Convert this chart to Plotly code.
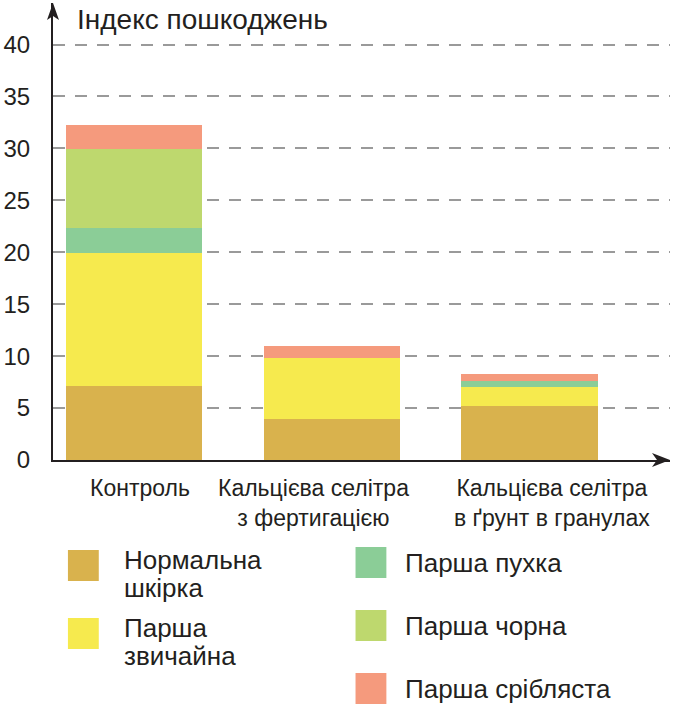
"""Stacked bar chart: damage index of potato tubers by treatment."""

import plotly.graph_objects as go

# ---- data ----
categories = [
    "Контроль",
    "Кальцієва селітра<br>з фертигацією",
    "Кальцієва селітра<br>в ґрунт в гранулах",
]
series_names = [
    "Нормальна шкірка",
    "Парша звичайна",
    "Парша пухка",
    "Парша чорна",
    "Парша срібляста",
]
normal_skin = [7.1, 3.9, 5.2]
common_scab = [12.8, 5.9, 1.8]
powdery_scab = [2.4, 0.0, 0.6]
black_scab = [7.6, 0.0, 0.0]
silver_scab = [2.4, 1.2, 0.7]
series_values = [normal_skin, common_scab, powdery_scab, black_scab, silver_scab]
colors = ["#D9B24D", "#F6EA4E", "#8BCD97", "#BED86E", "#F59A7D"]

y_ticks = [0, 5, 10, 15, 20, 25, 30, 35, 40]
y_title = "Індекс пошкоджень"

# legend text as it is broken in the picture
legend_lines = [
    ["Нормальна", "шкірка"],
    ["Парша", "звичайна"],
    ["Парша пухка"],
    ["Парша чорна"],
    ["Парша срібляста"],
]

# ---- geometry (pixels) ----
W, H = 673, 706
M_L, M_R, M_T, M_B = 50, 3, 3, 246
PW = W - M_L - M_R
PH = H - M_T - M_B
FONT = "Liberation Sans, Arial, sans-serif"
INK = "#231F20"


def px_x(px):
    return (px - M_L) / PW


def px_y(py):
    return (H - M_B - py) / PH


fig = go.Figure()
for name, vals, col in zip(series_names, series_values, colors):
    fig.add_trace(go.Bar(
        x=categories, y=vals, name=name,
        marker=dict(color=col, line=dict(width=0)),
        showlegend=False,
    ))

fig.update_layout(
    width=W, height=H,
    margin=dict(l=M_L, r=M_R, t=M_T, b=M_B, pad=0),
    paper_bgcolor="white", plot_bgcolor="white",
    barmode="stack", bargap=0.31,
    font=dict(family=FONT, color=INK),
    xaxis=dict(
        type="category", range=[-0.41, 2.71],
        showline=True, linecolor=INK, linewidth=2,
        showgrid=False, ticks="", showticklabels=False,
    ),
    yaxis=dict(
        range=[0, 44], tickvals=y_ticks,
        showline=True, linecolor=INK, linewidth=2,
        showgrid=True, gridcolor="#9A9A9A", gridwidth=1.5,
        griddash="12px,10px", zeroline=False,
        ticks="", ticklabelstandoff=16,
        tickfont=dict(size=24, color=INK),
    ),
)

# category labels under the axis; nudged sideways as in the picture
label_shifts = [6, -18, 22]
for cat, dx in zip(categories, label_shifts):
    fig.add_annotation(
        text=cat, x=cat, xref="x", y=0, yref="y",
        xanchor="center", yanchor="top", yshift=-13, xshift=dx,
        showarrow=False, align="center",
        font=dict(size=23, color=INK),
    )

# arrowheads on both axes
fig.add_shape(
    type="path", xref="paper", yref="paper",
    xsizemode="pixel", ysizemode="pixel", xanchor=0, yanchor=1,
    path="M 0,0 L -6,-17 L 0,-13 L 6,-17 Z",
    fillcolor=INK, line=dict(width=0),
)
fig.add_shape(
    type="path", xref="paper", yref="paper",
    xsizemode="pixel", ysizemode="pixel", xanchor=1, yanchor=0,
    path="M 0,0 L -18,7 L -13,0 L -18,-7 Z",
    fillcolor=INK, line=dict(width=0),
)

# axis title
fig.add_annotation(
    text=y_title, xref="paper", yref="paper",
    x=px_x(72), y=px_y(20), xanchor="left", yanchor="middle",
    showarrow=False, font=dict(size=28, color=INK),
)

# hand-laid legend: two columns like the picture
slots = [
    (65, 550, 119), (65, 618, 119),
    (354, 547, 402), (354, 610, 402), (354, 673, 402),
]
SQ = 31
for (sx, sy, tx), col, lines in zip(slots, colors, legend_lines):
    fig.add_shape(
        type="rect", xref="paper", yref="paper",
        x0=px_x(sx), x1=px_x(sx + SQ), y0=px_y(sy), y1=px_y(sy + SQ),
        fillcolor=col, line=dict(width=0),
    )
    first = sy + 10 if len(lines) > 1 else sy + SQ / 2
    for i, line in enumerate(lines):
        fig.add_annotation(
            text=line, xref="paper", yref="paper",
            x=px_x(tx), y=px_y(first + i * 28),
            xanchor="left", yanchor="middle", showarrow=False,
            font=dict(size=26, color=INK),
        )

fig.write_html(
    "out.html",
    config={"displayModeBar": False},
    post_script="document.body.style.margin='0';"
                "document.body.style.overflow='hidden';",
)
